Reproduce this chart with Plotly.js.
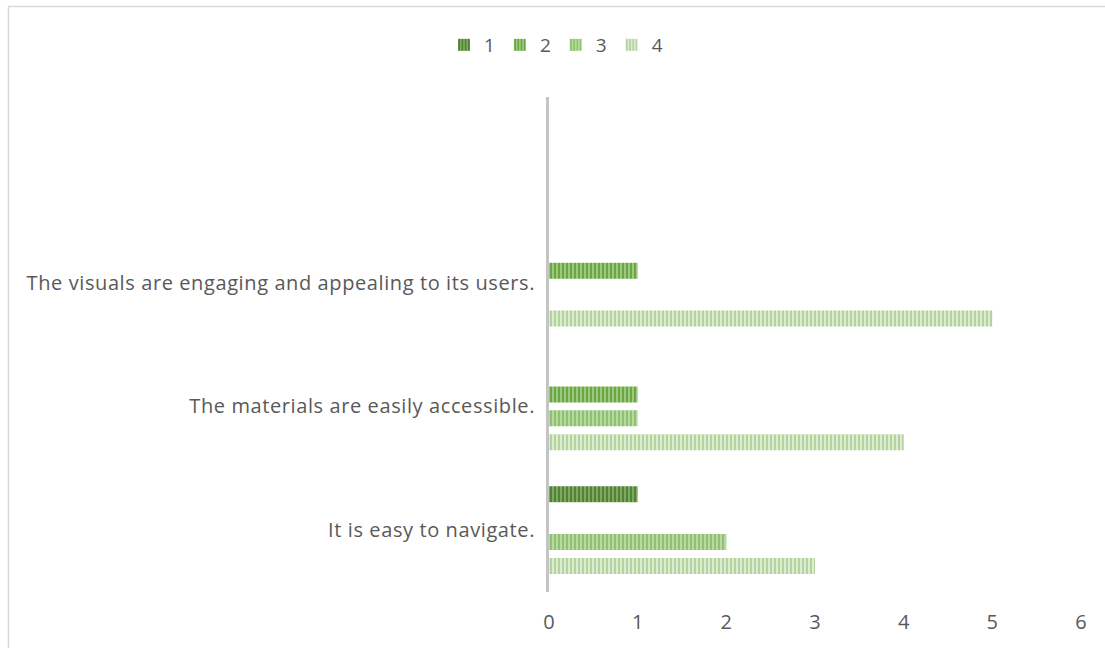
<!DOCTYPE html>
<html>
<head>
<meta charset="utf-8">
<script src="https://cdn.plot.ly/plotly-3.0.1.min.js"></script>
<style>
  html, body { margin: 0; padding: 0; background: #ffffff; }
  #chart { width: 1105px; height: 648px; }
  #chart .ytick text { letter-spacing: 0.6px; }
</style>
</head>
<body>
<div id="chart"></div>
<script>
// Categories (top to bottom as drawn)
const categories = [
  "The visuals are engaging and appealing to its users.",
  "The materials are easily accessible.",
  "It is easy to navigate."
];
const seriesNames = ["1", "2", "3", "4"];
const series1 = [0, 0, 1];
const series2 = [1, 1, 0];
const series3 = [0, 1, 2];
const series4 = [5, 4, 3];
const xTicks = [0, 1, 2, 3, 4, 5, 6];

const seriesValues = [series1, series2, series3, series4];
const bgColors = ["#7ea863", "#9cc884", "#b8d9a3", "#dcebd2"];
const fgColors = ["#548235", "#6aa83f", "#8fc16f", "#b3d39e"];

const FONT = "'Open Sans', sans-serif";
const TXT = "#595959";

const traces = seriesValues.map((vals, i) => ({
  type: "bar",
  orientation: "h",
  name: seriesNames[i],
  y: categories,
  x: vals,
  marker: {
    color: bgColors[i],
    line: { width: 0 },
    pattern: { shape: "|", fgcolor: fgColors[i], bgcolor: bgColors[i], size: 4, solidity: 0.5, fillmode: "replace" }
  },
  hoverinfo: "x+y+name"
}));

// plot area geometry in pixels
const L = 549, R = 24, T = 97, B = 56, W = 1105, H = 648;
const pw = W - L - R, ph = H - T - B;
const px = v => (v - L) / pw;
const py = v => (H - B - v) / ph;

const layout = {
  width: W, height: H,
  margin: { l: L, r: R, t: T, b: B, pad: 0 },
  paper_bgcolor: "#ffffff",
  plot_bgcolor: "#ffffff",
  font: { family: FONT, size: 20, color: TXT },
  barmode: "group",
  bargap: 0.226,
  bargroupgap: 0.33,
  showlegend: true,
  legend: {
    orientation: "h",
    x: px(556), xanchor: "center",
    y: py(45), yanchor: "middle",
    font: { family: FONT, size: 19, color: TXT },
    itemwidth: 30,
    bgcolor: "rgba(0,0,0,0)"
  },
  xaxis: {
    range: [0, 6],
    tickvals: xTicks,
    ticktext: xTicks.map(String),
    showgrid: false,
    zeroline: false,
    showline: false,
    ticks: "outside",
    ticklen: 12,
    tickcolor: "rgba(0,0,0,0)",
    tickfont: { family: FONT, size: 20, color: TXT },
    fixedrange: true
  },
  yaxis: {
    type: "category",
    categoryorder: "array",
    categoryarray: categories,
    range: [2.5, -1.5],
    showgrid: false,
    zeroline: false,
    showline: true,
    linecolor: "#c4c4c4",
    linewidth: 3,
    ticks: "outside",
    ticklen: 7,
    tickcolor: "rgba(0,0,0,0)",
    tickfont: { family: FONT, size: 20, color: TXT },
    fixedrange: true
  },
  shapes: [{
    type: "rect",
    xref: "paper", yref: "paper",
    x0: px(8.5), x1: px(1115),
    y0: py(660), y1: py(6.5),
    line: { color: "#d9d9d9", width: 1.5 },
    fillcolor: "rgba(0,0,0,0)",
    layer: "below"
  }]
};

Plotly.newPlot("chart", traces, layout, { displayModeBar: false, staticPlot: true });
</script>
</body>
</html>
